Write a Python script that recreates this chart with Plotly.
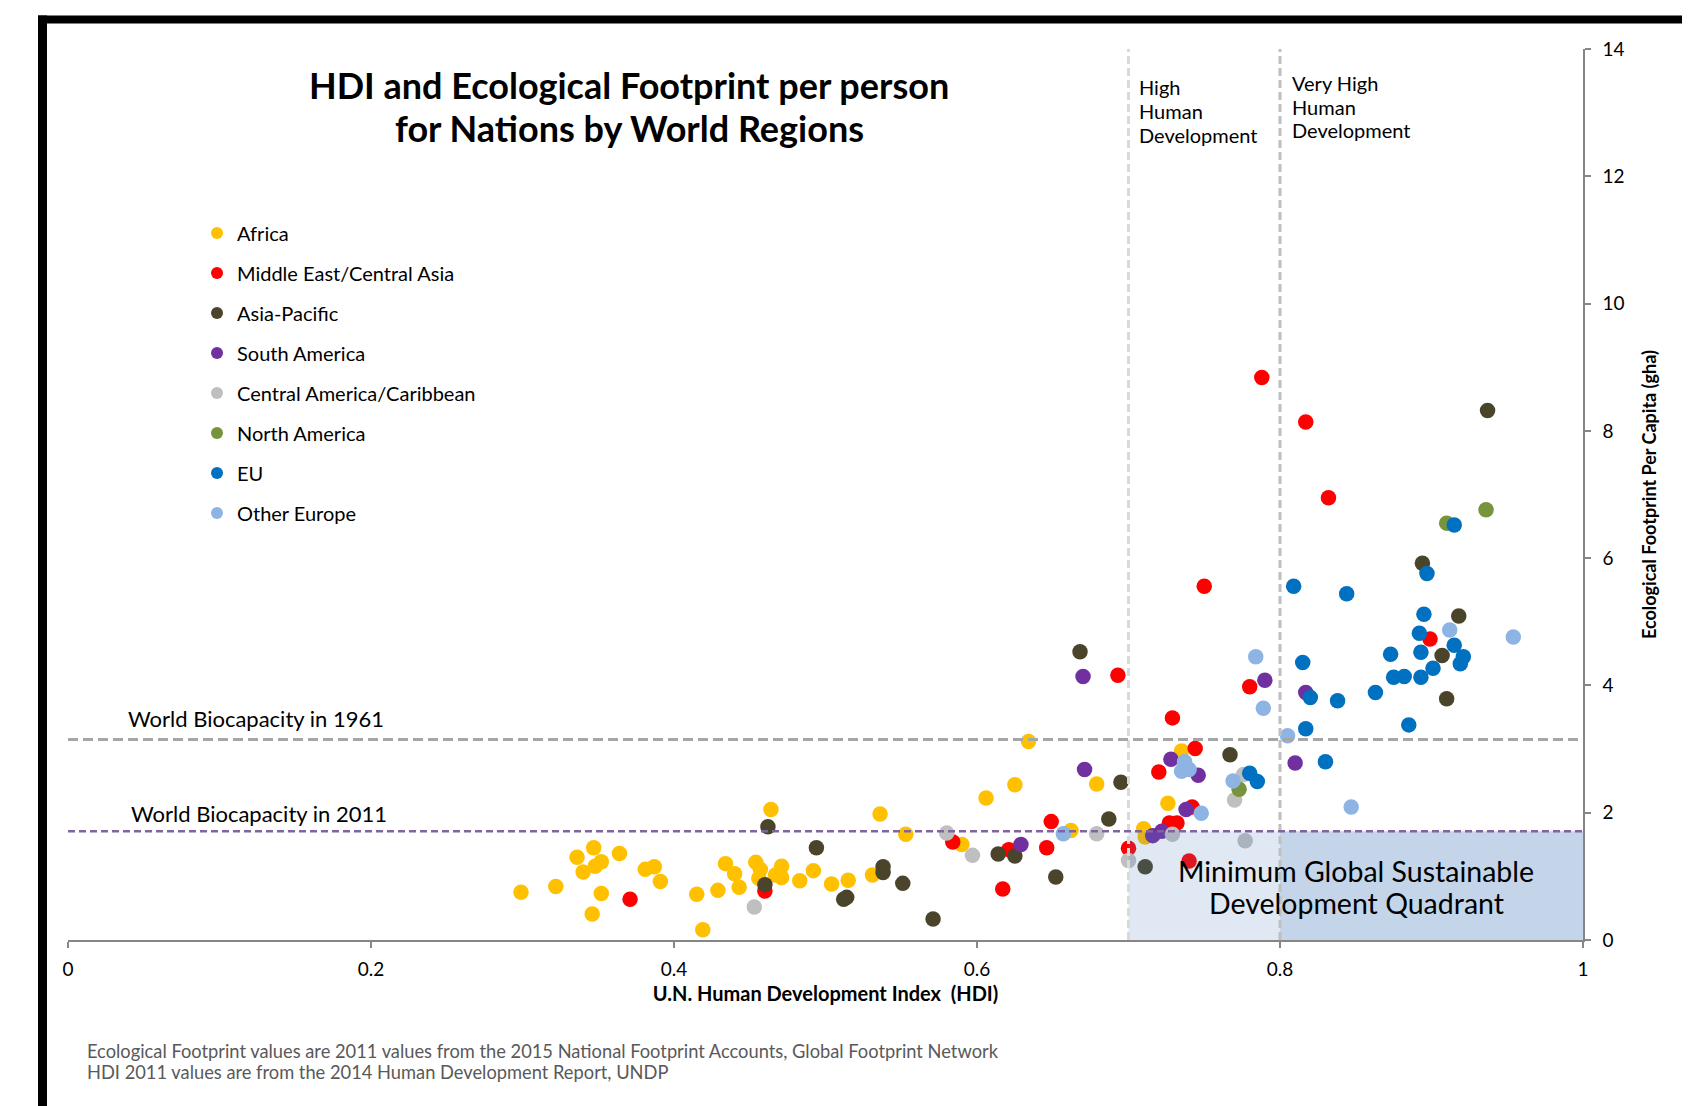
import plotly.graph_objects as go

# ---------------- data (HDI 2011, Ecological Footprint gha per capita 2011) ----------------
regions = ["Africa", "Middle East/Central Asia", "Asia-Pacific", "South America",
           "Central America/Caribbean", "North America", "EU", "Other Europe"]
colors = ["#FFC000", "#FF0000", "#4A452A", "#7030A0", "#BFBFBF", "#77933C", "#0070C0", "#8EB4E3"]

hdi_africa = [0.299, 0.322, 0.336, 0.347, 0.340, 0.348, 0.352, 0.364, 0.352, 0.346, 0.381, 0.387,
              0.391, 0.415, 0.419, 0.429, 0.434, 0.440, 0.443, 0.454, 0.457, 0.456, 0.464, 0.467,
              0.471, 0.471, 0.483, 0.492, 0.504, 0.515, 0.531, 0.536, 0.553, 0.590, 0.606, 0.625,
              0.634, 0.662, 0.679, 0.710, 0.711, 0.726, 0.735]
ef_africa = [0.75, 0.84, 1.30, 1.45, 1.07, 1.16, 1.23, 1.36, 0.73, 0.41, 1.11, 1.15,
             0.92, 0.72, 0.16, 0.78, 1.20, 1.04, 0.83, 1.22, 1.11, 0.97, 2.05, 1.02,
             1.16, 0.98, 0.93, 1.09, 0.88, 0.94, 1.02, 1.98, 1.66, 1.50, 2.23, 2.44,
             3.12, 1.72, 2.45, 1.75, 1.62, 2.15, 2.97]

hdi_mideast = [0.371, 0.460, 0.584, 0.617, 0.621, 0.646, 0.649, 0.693, 0.700, 0.720, 0.727,
               0.732, 0.729, 0.740, 0.742, 0.744, 0.750, 0.780, 0.788, 0.817, 0.832, 0.899]
ef_mideast = [0.64, 0.77, 1.54, 0.80, 1.42, 1.45, 1.86, 4.16, 1.44, 2.64, 1.84,
              1.84, 3.49, 1.24, 2.09, 3.01, 5.56, 3.98, 8.84, 8.14, 6.95, 4.73]

hdi_asiapac = [0.462, 0.460, 0.494, 0.512, 0.514, 0.538, 0.538, 0.551, 0.571, 0.614, 0.625,
               0.652, 0.668, 0.687, 0.695, 0.711, 0.767, 0.894, 0.907, 0.910, 0.918, 0.937]
ef_asiapac = [1.78, 0.87, 1.45, 0.64, 0.67, 1.15, 1.06, 0.89, 0.33, 1.35, 1.32,
              0.99, 4.53, 1.90, 2.48, 1.15, 2.91, 5.92, 4.47, 3.79, 5.09, 8.32]

hdi_southam = [0.629, 0.670, 0.671, 0.716, 0.722, 0.728, 0.738, 0.746, 0.790, 0.810, 0.817]
ef_southam = [1.50, 4.14, 2.68, 1.64, 1.71, 2.84, 2.05, 2.59, 4.08, 2.78, 3.89]

hdi_centam = [0.453, 0.580, 0.597, 0.679, 0.700, 0.729, 0.770, 0.776, 0.777]
ef_centam = [0.52, 1.68, 1.33, 1.67, 1.25, 1.66, 2.20, 2.60, 1.56]

hdi_northam = [0.773, 0.910, 0.936]
ef_northam = [2.37, 6.55, 6.76]

hdi_eu = [0.780, 0.785, 0.809, 0.815, 0.817, 0.820, 0.830, 0.838, 0.844, 0.863, 0.873, 0.875,
          0.882, 0.885, 0.892, 0.893, 0.893, 0.895, 0.897, 0.901, 0.915, 0.915, 0.919, 0.921]
ef_eu = [2.62, 2.49, 5.56, 4.36, 3.32, 3.81, 2.80, 3.76, 5.44, 3.89, 4.49, 4.13,
         4.14, 3.38, 4.82, 4.52, 4.13, 5.12, 5.76, 4.27, 6.52, 4.63, 4.34, 4.45]

hdi_othereu = [0.657, 0.737, 0.735, 0.740, 0.748, 0.769, 0.784, 0.789, 0.805, 0.847, 0.912, 0.954]
ef_othereu = [1.67, 2.80, 2.65, 2.68, 1.99, 2.50, 4.45, 3.64, 3.21, 2.09, 4.87, 4.76]

biocap_1961 = 3.15
biocap_2011 = 1.71
hdi_high = 0.7
hdi_very_high = 0.8

x_ticks = [0, 0.2, 0.4, 0.6, 0.8, 1]
x_ticklabels = ["0", "0.2", "0.4", "0.6", "0.8", "1"]
y_ticks = [0, 2, 4, 6, 8, 10, 12, 14]

title_lines = ["HDI and Ecological Footprint per person", "for Nations by World Regions"]
high_lines = ["High", "Human", "Development"]
very_high_lines = ["Very High", "Human", "Development"]
quadrant_lines = ["Minimum Global Sustainable", "Development Quadrant"]
note_lines = ["Ecological Footprint values are 2011 values from the 2015 National Footprint Accounts, "
              "Global Footprint Network",
              "HDI 2011 values are from the 2014 Human Development Report, UNDP"]

series_x = [hdi_africa, hdi_mideast, hdi_asiapac, hdi_southam, hdi_centam, hdi_northam, hdi_eu, hdi_othereu]
series_y = [ef_africa, ef_mideast, ef_asiapac, ef_southam, ef_centam, ef_northam, ef_eu, ef_othereu]

# ---------------- layout geometry (page pixels; the page body adds an 8px offset) ----------------
OFF = 8
PAGE_W, PAGE_H = 1690, 1106
W, H = PAGE_W - OFF, PAGE_H - OFF
PLOT_L, PLOT_R, PLOT_T, PLOT_B = 68, 1583, 48.5, 940   # page coords of plot area
ML, MR = PLOT_L - OFF, W - (PLOT_R - OFF)
MT, MB = PLOT_T - OFF, H - (PLOT_B - OFF)
PW, PH = W - ML - MR, H - MT - MB


def px(xp):
    return (xp - OFF - ML) / PW


def py(yp):
    return (H - MB - (yp - OFF)) / PH


FONT = "Lato, 'Open Sans', sans-serif"

fig = go.Figure()
for i, name in enumerate(regions):
    fig.add_trace(go.Scatter(
        x=series_x[i], y=series_y[i], mode="markers", name=name,
        legendgroup=name,
        marker=dict(color=colors[i], size=15.5, line=dict(width=0)),
    ))

shapes = []
shapes.append(dict(type="rect", xref="x", yref="y", x0=hdi_high, x1=1, y0=0, y1=biocap_2011,
                   fillcolor="#4F81BD", opacity=0.18, line=dict(width=0), layer="above"))
shapes.append(dict(type="rect", xref="x", yref="y", x0=hdi_very_high, x1=1, y0=0, y1=biocap_2011,
                   fillcolor="#4F81BD", opacity=0.18, line=dict(width=0), layer="above"))
shapes.append(dict(type="line", xref="x", yref="y", x0=hdi_high, x1=hdi_high, y0=0, y1=14,
                   line=dict(color="#D9D9D9", width=3, dash="8px,4px"), layer="above"))
shapes.append(dict(type="line", xref="x", yref="y", x0=hdi_very_high, x1=hdi_very_high, y0=0, y1=14,
                   line=dict(color="#BFBFBF", width=3, dash="8px,4px"), layer="above"))
shapes.append(dict(type="line", xref="x", yref="y", x0=0, x1=1, y0=biocap_1961, y1=biocap_1961,
                   line=dict(color="#A6A6A6", width=3, dash="10px,5px"), layer="above"))
shapes.append(dict(type="line", xref="x", yref="y", x0=0, x1=1, y0=biocap_2011, y1=biocap_2011,
                   line=dict(color="#8064A2", width=2.5, dash="7px,4px"), layer="above"))
# black frame (top, left, right)
shapes.append(dict(type="rect", xref="paper", yref="paper", x0=px(38), x1=px(PAGE_W), y0=py(15), y1=py(23),
                   fillcolor="black", line=dict(width=0), layer="above"))
shapes.append(dict(type="rect", xref="paper", yref="paper", x0=px(38), x1=px(47), y0=py(15), y1=py(PAGE_H),
                   fillcolor="black", line=dict(width=0), layer="above"))
shapes.append(dict(type="rect", xref="paper", yref="paper", x0=px(1682), x1=px(PAGE_W), y0=py(15),
                   y1=py(PAGE_H), fillcolor="black", line=dict(width=0), layer="above"))

annotations = []


def add_text(text, xp, yp, size, anchor="left", bold=False, color="black"):
    annotations.append(dict(
        text=f"<b>{text}</b>" if bold else text, x=px(xp), y=py(yp), xref="paper", yref="paper",
        xanchor=anchor, yanchor="middle", showarrow=False,
        font=dict(family=FONT, size=size, color=color)))


for t, yy in zip(title_lines, [85, 128]):
    add_text(t, 629, yy, 36, anchor="center", bold=True)
for t, yy in zip(high_lines, [87, 111, 135]):
    add_text(t, 1137, yy, 20)
for t, yy in zip(very_high_lines, [83, 107, 130]):
    add_text(t, 1290, yy, 20)
add_text("World Biocapacity in 1961", 126, 718, 22)
add_text("World Biocapacity in 2011", 129, 813, 22)
for t, yy in zip(quadrant_lines, [871, 903]):
    add_text(t, 1356, yy, 28.5, anchor="center")
for t, yy in zip(note_lines, [1051, 1072]):
    add_text(t, 85, yy, 18.3, color="#595959")

fig.update_layout(
    width=W, height=H,
    margin=dict(l=ML, r=MR, t=MT, b=MB, pad=0),
    paper_bgcolor="white", plot_bgcolor="white",
    font=dict(family=FONT, color="black"),
    shapes=shapes, annotations=annotations,
    showlegend=True,
    legend=dict(x=px(197), y=py(213), xanchor="left", yanchor="top",
                font=dict(family=FONT, size=20, color="black"),
                tracegroupgap=11, bgcolor="rgba(0,0,0,0)", itemsizing="constant"),
    xaxis=dict(range=[0, 1], tickvals=x_ticks, ticktext=x_ticklabels,
               showgrid=False, zeroline=False, showline=True, linecolor="#868686", linewidth=1.5,
               ticks="outside", ticklen=6, tickcolor="#868686", tickwidth=1.5, ticklabelstandoff=5,
               tickfont=dict(family=FONT, size=19, color="black"),
               title=dict(text="<b>U.N. Human Development Index  (HDI)</b>", standoff=8,
                          font=dict(family=FONT, size=20, color="black"))),
    yaxis=dict(range=[0, 14], tickvals=y_ticks, side="right",
               showgrid=False, zeroline=False, showline=True, linecolor="#868686", linewidth=1.5,
               ticks="outside", ticklen=6, tickcolor="#868686", tickwidth=1.5, ticklabelstandoff=8,
               tickfont=dict(family=FONT, size=19, color="black"),
               title=dict(text="<b>Ecological Footprint Per Capita (gha)</b>", standoff=20,
                          font=dict(family=FONT, size=18, color="black"))),
)

fig.write_html("out.html")
